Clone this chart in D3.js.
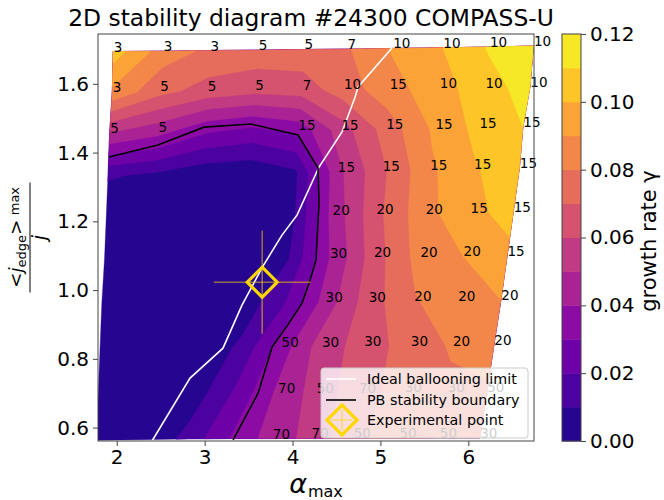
<!DOCTYPE html>
<html>
<head>
<meta charset="utf-8">
<script src="https://cdn.jsdelivr.net/npm/d3@7"></script>
<style>
body { margin: 0; background: #fff; }
text { font-family: "DejaVu Sans", sans-serif; fill: #000; }
</style>
</head>
<body>
<svg id="chart" width="664" height="500"></svg>
<script>
// grid node positions, top row first (alpha_max)
const alphaGrid = [
    [1.96, 2.53, 3.06, 3.61, 4.13, 4.62, 5.14, 5.71, 6.24, 6.74],
    [1.95, 2.49, 3.03, 3.57, 4.11, 4.58, 5.10, 5.67, 6.19, 6.70],
    [1.92, 2.47, 3.02, 3.54, 4.06, 4.55, 5.06, 5.62, 6.12, 6.62],
    [1.90, 2.45, 2.99, 3.52, 4.03, 4.51, 5.02, 5.56, 6.06, 6.58],
    [1.88, 2.42, 2.97, 3.49, 4.00, 4.45, 4.95, 5.51, 6.02, 6.51],
    [1.86, 2.40, 2.94, 3.46, 3.96, 4.42, 4.92, 5.45, 5.94, 6.44],
    [1.83, 2.38, 2.91, 3.44, 3.92, 4.37, 4.86, 5.38, 5.88, 6.37],
    [1.81, 2.36, 2.89, 3.40, 3.87, 4.33, 4.81, 5.34, 5.82, 6.29],
    [1.79, 2.33, 2.86, 3.36, 3.83, 4.27, 4.75, 5.27, 5.76, 6.21],
    [1.77, 2.31, 2.82, 3.31, 3.77, 4.21, 4.69, 5.21, 5.67, 6.13]
];
// <j_edge>max / j at each node
const jGrid = [
    [1.694, 1.695, 1.697, 1.698, 1.700, 1.701, 1.703, 1.705, 1.707, 1.710],
    [1.576, 1.578, 1.579, 1.581, 1.583, 1.584, 1.586, 1.588, 1.589, 1.591],
    [1.457, 1.459, 1.461, 1.463, 1.465, 1.466, 1.468, 1.470, 1.472, 1.474],
    [1.332, 1.335, 1.337, 1.339, 1.341, 1.343, 1.346, 1.349, 1.352, 1.355],
    [1.210, 1.211, 1.212, 1.214, 1.216, 1.218, 1.220, 1.222, 1.225, 1.227],
    [1.088, 1.089, 1.090, 1.091, 1.092, 1.093, 1.095, 1.096, 1.098, 1.099],
    [0.962, 0.962, 0.963, 0.963, 0.964, 0.965, 0.966, 0.968, 0.969, 0.971],
    [0.832, 0.832, 0.833, 0.833, 0.834, 0.835, 0.836, 0.837, 0.838, 0.840],
    [0.700, 0.700, 0.701, 0.701, 0.701, 0.702, 0.702, 0.703, 0.703, 0.704],
    [0.563, 0.565, 0.567, 0.568, 0.568, 0.569, 0.569, 0.569, 0.570, 0.570]
];
// growth rate gamma at each node
const gammaGrid = [
    [0.105, 0.085, 0.078, 0.076, 0.076, 0.079, 0.091, 0.100, 0.111, 0.119],
    [0.088, 0.073, 0.066, 0.063, 0.065, 0.075, 0.086, 0.096, 0.106, 0.114],
    [0.050, 0.043, 0.031, 0.027, 0.033, 0.055, 0.074, 0.092, 0.103, 0.110],
    [0.011, 0.008, 0.003, 0.002, 0.008, 0.047, 0.068, 0.088, 0.099, 0.106],
    [0.003, 0.002, 0.001, 0.001, 0.008, 0.043, 0.067, 0.087, 0.097, 0.104],
    [0.001, 0.000, 0.000, 0.001, 0.010, 0.040, 0.065, 0.084, 0.090, 0.097],
    [0.000, 0.000, 0.000, 0.003, 0.020, 0.044, 0.065, 0.079, 0.087, 0.090],
    [0.000, 0.000, 0.000, 0.012, 0.035, 0.055, 0.064, 0.075, 0.081, 0.083],
    [0.000, 0.000, 0.004, 0.022, 0.042, 0.054, 0.066, 0.074, 0.078, 0.079],
    [0.000, 0.000, 0.014, 0.031, 0.045, 0.053, 0.068, 0.075, 0.078, 0.078]
];
// most unstable toroidal mode number (empty = stable)
const modeGrid = [
    ["3", "3", "3", "5", "5", "7", "10", "10", "10", "10"],
    ["3", "5", "5", "5", "7", "10", "15", "10", "10", "10"],
    ["5", "5", "", "", "15", "15", "15", "15", "15", "15"],
    ["", "", "", "", "", "15", "15", "15", "15", "15"],
    ["", "", "", "", "", "20", "20", "20", "15", "15"],
    ["", "", "", "", "", "30", "20", "20", "20", "15"],
    ["", "", "", "", "", "30", "30", "20", "20", "20"],
    ["", "", "", "", "50", "30", "30", "30", "20", "20"],
    ["", "", "", "", "70", "50", "70", "30", "30", "50"],
    ["", "", "", "", "70", "70", "50", "50", "50", "30"]
];
const levels = [0, 0.01, 0.02, 0.03, 0.04, 0.05, 0.06, 0.07, 0.08, 0.09, 0.10, 0.11, 0.12];

const ballooningAlpha = [5.132, 4.745, 4.711, 4.563, 4.301, 4.051, 3.880, 3.664, 3.425, 3.209, 2.834, 2.402];
const ballooningJ = [1.704, 1.591, 1.561, 1.460, 1.358, 1.218, 1.160, 1.070, 0.956, 0.831, 0.744, 0.561];
const pbAlpha = [1.912, 2.470, 2.993, 3.528, 4.063, 4.290, 4.301, 4.267, 4.188, 4.108, 3.960, 3.767, 3.608, 3.324];
const pbJ = [1.387, 1.422, 1.474, 1.483, 1.451, 1.355, 1.253, 1.087, 1.020, 0.962, 0.904, 0.834, 0.700, 0.564];

const expAlpha = 3.655, expAlphaErr = 0.55;
const expJ = 1.023, expJErr = 0.15;

const xTicks = [2, 3, 4, 5, 6];
const yTicks = [0.6, 0.8, 1.0, 1.2, 1.4, 1.6];
const cbTicks = [0, 0.02, 0.04, 0.06, 0.08, 0.10, 0.12];

const svg = d3.select("#chart");
const pLeft = 98, pRight = 534, pTop = 34, pBottom = 441;

const x = d3.scaleLinear().domain([1.787, 6.747]).range([pLeft, pRight]);
const y = d3.scaleLinear().domain([0.561, 1.745]).range([pBottom, pTop]);
const bandColor = i => d3.interpolatePlasma((i + 0.5) / (levels.length - 1));

svg.append("defs").append("clipPath").attr("id", "plotclip")
    .append("rect").attr("x", pLeft).attr("y", pTop).attr("width", pRight - pLeft).attr("height", pBottom - pTop);

// filled contours on the curvilinear grid
const ny = gammaGrid.length, nx = gammaGrid[0].length;
const bands = d3.contours().size([nx, ny]).thresholds(levels.slice(0, -1))(gammaGrid.flat());

function toPixel(p) {
    const u = Math.max(0, Math.min(nx - 1, p[0] - 0.5));
    const v = Math.max(0, Math.min(ny - 1, p[1] - 0.5));
    const i = Math.min(nx - 2, Math.floor(u)), j = Math.min(ny - 2, Math.floor(v));
    const fu = u - i, fv = v - j;
    const bl = g => (1 - fu) * (1 - fv) * g[j][i] + fu * (1 - fv) * g[j][i + 1]
        + (1 - fu) * fv * g[j + 1][i] + fu * fv * g[j + 1][i + 1];
    return [x(bl(alphaGrid)), y(bl(jGrid))];
}
const bandPath = c => c.coordinates.map(poly => poly.map(ring =>
    "M" + ring.map(p => toPixel(p).map(d => d.toFixed(2)).join(",")).join("L") + "Z").join("")).join("");

const plot = svg.append("g").attr("clip-path", "url(#plotclip)");
plot.selectAll("path.band").data(bands).enter().append("path")
    .attr("class", "band")
    .attr("d", bandPath)
    .attr("fill", (d, i) => bandColor(i))
    .attr("stroke", (d, i) => bandColor(i))
    .attr("stroke-width", 0.3)
    .attr("fill-rule", "evenodd");

const line = d3.line().x(d => x(d[0])).y(d => y(d[1]));
plot.append("path")
    .attr("d", line(d3.zip(ballooningAlpha, ballooningJ)))
    .attr("fill", "none").attr("stroke", "#fff").attr("stroke-width", 1.6);
plot.append("path")
    .attr("d", line(d3.zip(pbAlpha, pbJ)))
    .attr("fill", "none").attr("stroke", "#000").attr("stroke-width", 1.6);

// experimental point with error bars
const eb = plot.append("g").attr("stroke", "#ffd700").attr("stroke-opacity", 0.5).attr("stroke-width", 1.6);
eb.append("line").attr("x1", x(expAlpha - expAlphaErr)).attr("x2", x(expAlpha + expAlphaErr))
    .attr("y1", y(expJ)).attr("y2", y(expJ));
eb.append("line").attr("x1", x(expAlpha)).attr("x2", x(expAlpha))
    .attr("y1", y(expJ - expJErr)).attr("y2", y(expJ + expJErr));

const diamond = (cx, cy, r) => `M${cx},${cy - r}L${cx + r},${cy}L${cx},${cy + r}L${cx - r},${cy}Z`;
plot.append("path").attr("d", diamond(x(expAlpha), y(expJ), 15))
    .attr("fill", "none").attr("stroke", "#ffd700").attr("stroke-width", 3.2);

// mode number labels
const labels = [];
modeGrid.forEach((row, r) => row.forEach((m, c) => {
    if (m) labels.push({ m, a: alphaGrid[r][c], j: jGrid[r][c] });
}));
svg.append("g").selectAll("text").data(labels).enter().append("text")
    .attr("x", d => x(d.a) + 0.5)
    .attr("y", d => y(d.j))
    .attr("font-size", 13.5)
    .text(d => d.m);

// axes frame and ticks
svg.append("rect").attr("x", pLeft).attr("y", pTop).attr("width", pRight - pLeft).attr("height", pBottom - pTop)
    .attr("fill", "none").attr("stroke", "#444").attr("stroke-width", 1);

const xAxis = svg.append("g").attr("transform", `translate(0,${pBottom})`)
    .call(d3.axisBottom(x).tickValues(xTicks).tickSize(5).tickPadding(4).tickFormat(d3.format("d")));
const yAxis = svg.append("g").attr("transform", `translate(${pLeft},0)`)
    .call(d3.axisLeft(y).tickValues(yTicks).tickSize(5).tickPadding(4).tickFormat(d3.format(".1f")));
[xAxis, yAxis].forEach(a => {
    a.select(".domain").remove();
    a.selectAll(".tick line").attr("stroke", "#444");
    a.selectAll(".tick text").attr("font-size", 20).attr("font-family", "DejaVu Sans").attr("fill", "#000");
});

// title and axis labels
svg.append("text").attr("x", 311).attr("y", 26).attr("text-anchor", "middle")
    .attr("font-size", 23.4).text("2D stability diagram #24300 COMPASS-U");

const xl = svg.append("text").attr("x", 316).attr("y", 493).attr("text-anchor", "middle").attr("font-size", 27);
xl.append("tspan").attr("font-style", "italic").text("α");
xl.append("tspan").attr("font-size", 16).attr("dy", 4).attr("dx", 1).text("max");

const yl = svg.append("g").attr("transform", "translate(30,237.5) rotate(-90)");
const num = yl.append("text").attr("x", 0).attr("y", -8).attr("text-anchor", "middle").attr("font-size", 18.5);
num.append("tspan").text("<");
num.append("tspan").attr("font-style", "italic").text("j");
num.append("tspan").attr("font-size", 13).attr("dy", 4).text("edge");
num.append("tspan").attr("dy", -4).text(">");
num.append("tspan").attr("font-size", 13).attr("dy", -3).text(" max");
yl.append("line").attr("x1", -55).attr("x2", 55).attr("y1", 0).attr("y2", 0).attr("stroke", "#000").attr("stroke-width", 1);
yl.append("text").attr("x", 0).attr("y", 16).attr("text-anchor", "middle").attr("font-size", 19)
    .attr("font-style", "italic").text("j");

// legend
const lg = svg.append("g");
lg.append("rect").attr("x", 321).attr("y", 368).attr("width", 207).attr("height", 70).attr("rx", 3)
    .attr("fill", "#fff").attr("fill-opacity", 0.8).attr("stroke", "#ccc").attr("stroke-width", 1);
lg.append("line").attr("x1", 326).attr("x2", 356).attr("y1", 379).attr("y2", 379).attr("stroke", "#fff").attr("stroke-width", 1.6);
lg.append("line").attr("x1", 326).attr("x2", 356).attr("y1", 400).attr("y2", 400).attr("stroke", "#000").attr("stroke-width", 1.6);
const lgm = lg.append("g").attr("stroke", "#ffd700").attr("stroke-opacity", 0.5).attr("stroke-width", 1.6);
lgm.append("line").attr("x1", 332).attr("x2", 352).attr("y1", 420).attr("y2", 420);
lgm.append("line").attr("x1", 342).attr("x2", 342).attr("y1", 410).attr("y2", 430);
lg.append("path").attr("d", diamond(342, 420, 15)).attr("fill", "none").attr("stroke", "#ffd700").attr("stroke-width", 3.2);
["Ideal ballooning limit", "PB stability boundary", "Experimental point"].forEach((t, i) => {
    lg.append("text").attr("x", 367).attr("y", 384 + i * 20.5).attr("font-size", 14.3).text(t);
});

// colorbar
const cbLeft = 562, cbRight = 581;
const cy = d3.scaleLinear().domain([0, 0.12]).range([pBottom, pTop]);
const cb = svg.append("g");
cb.selectAll("rect").data(d3.pairs(levels)).enter().append("rect")
    .attr("x", cbLeft).attr("width", cbRight - cbLeft)
    .attr("y", d => cy(d[1])).attr("height", d => cy(d[0]) - cy(d[1]) + 0.5)
    .attr("fill", (d, i) => bandColor(i));
cb.append("rect").attr("x", cbLeft).attr("y", pTop).attr("width", cbRight - cbLeft).attr("height", pBottom - pTop)
    .attr("fill", "none").attr("stroke", "#444").attr("stroke-width", 1);
const cbAxis = svg.append("g").attr("transform", `translate(${cbRight},0)`)
    .call(d3.axisRight(cy).tickValues(cbTicks).tickSize(5).tickPadding(4).tickFormat(d3.format(".2f")));
cbAxis.select(".domain").remove();
cbAxis.selectAll(".tick line").attr("stroke", "#444");
cbAxis.selectAll(".tick text").attr("font-size", 20).attr("font-family", "DejaVu Sans").attr("fill", "#000");

svg.append("text").attr("transform", "translate(656,241) rotate(-90)").attr("text-anchor", "middle")
    .attr("font-size", 21).text("growth rate γ");
</script>
</body>
</html>
